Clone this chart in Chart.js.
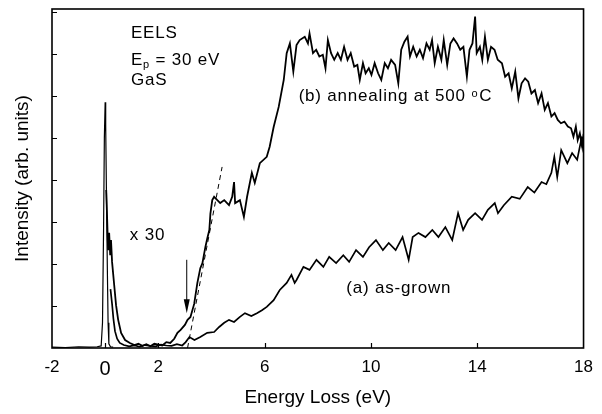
<!DOCTYPE html>
<html>
<head>
<meta charset="utf-8">
<script src="https://cdn.jsdelivr.net/npm/chart.js@4.4.1/dist/chart.umd.min.js"></script>
<style>
    html, body { margin: 0; padding: 0; background: #fff; }
    #wrap { width: 602px; height: 414px; }
</style>
</head>
<body>
<div id="wrap"><canvas id="eelsChart"></canvas></div>
<script>
// x tick labels on the energy axis
const energyTicks = [-2, 0, 2, 6, 10, 14, 18];
const intensityTicks = [1, 2, 3, 4, 5, 6, 7, 8];

// zero-loss (elastic) peak, unscaled
const elasticEnergy = [-2, -1.5, -1, -0.6, -0.3, -0.15, -0.1, -0.06, -0.03, 0, 0.02, 0.05, 0.08, 0.11, 0.14, 0.2, 0.3];
const elasticIntensity = [0.02, 0.01, 0.03, 0.02, 0.03, 0.05, 0.6, 2.8, 5.0, 5.85, 5.3, 3.6, 2.0, 0.6, 0.1, 0.03, 0.02];

// (b) annealing at 500 C, x30
const annealEnergy = [
    0.04, 0.07, 0.11, 0.15, 0.19, 0.22, 0.26, 0.34, 0.41, 0.49,
    0.6, 0.75, 0.93, 1.1, 1.25, 1.4, 1.55, 1.7, 1.85, 2.0,
    2.15, 2.3, 2.45, 2.6, 2.72, 2.84, 3.0, 3.1, 3.21, 3.35,
    3.47, 3.58, 3.66, 3.77, 3.84, 3.92, 3.96, 4.03, 4.1, 4.22,
    4.33, 4.48, 4.66, 4.78, 4.85, 4.89, 5.07, 5.22, 5.34, 5.52,
    5.63, 5.82, 6.08, 6.19, 6.34, 6.53, 6.72,
    6.83, 6.95, 7.08, 7.2, 7.32, 7.51, 7.63, 7.69, 7.82, 7.94,
    8.06, 8.19, 8.29, 8.38, 8.5, 8.62, 8.75, 8.87, 8.99, 9.12,
    9.24, 9.37, 9.49, 9.58, 9.7, 9.8, 9.92, 10.02, 10.14, 10.27,
    10.39, 10.52, 10.64, 10.76, 10.91, 11.03, 11.14, 11.26, 11.38, 11.47,
    11.59, 11.72, 11.84, 11.96, 12.09, 12.21, 12.3, 12.4, 12.52, 12.65,
    12.74, 12.87, 12.99, 13.11, 13.24, 13.36, 13.48, 13.61, 13.71, 13.82,
    13.92, 13.98, 14.1, 14.19, 14.29, 14.4, 14.52, 14.65, 14.77, 14.93,
    15.05, 15.18, 15.3, 15.43, 15.55, 15.67, 15.8, 15.92, 16.04, 16.17,
    16.29, 16.42, 16.54, 16.66, 16.79, 16.91, 17.03, 17.15, 17.28, 17.41,
    17.53, 17.62, 17.71, 17.78, 17.86, 17.92, 17.96
];
const annealIntensity = [
    3.76, 3.17, 2.33, 2.74, 2.21, 2.57, 2.05, 1.5, 1.02, 0.67,
    0.36, 0.19, 0.12, 0.07, 0.1, 0.05, 0.09, 0.04, 0.1, 0.08,
    0.06, 0.14, 0.12, 0.22, 0.36, 0.43, 0.55, 0.67, 0.74, 1.05,
    1.55, 1.9, 2.02, 2.4, 2.6, 2.81, 3.2, 3.52, 3.6, 3.52,
    3.45, 3.52, 3.4, 3.6, 3.95, 3.45, 3.52, 3.12, 3.6, 4.17,
    3.93, 4.4, 4.55, 4.79, 5.26, 5.74, 6.38,
    7.02, 7.25, 6.58, 7.21, 7.33, 7.41, 7.25, 7.49, 7.02, 7.1,
    6.94, 6.98, 6.66, 7.33, 7.02, 6.86, 7.02, 6.86, 7.17, 6.86,
    7.02, 6.7, 6.74, 6.38, 6.78, 6.54, 6.66, 6.5, 6.78, 6.54,
    6.38, 6.78, 6.66, 6.86, 6.74, 6.3, 7.1, 7.29, 7.41, 6.94,
    7.17, 6.94, 7.1, 6.9, 7.25, 7.1, 7.33, 6.78, 7.17, 6.86,
    7.33, 6.74, 7.25, 7.37, 7.25, 7.1, 7.17, 6.46, 7.1, 7.25,
    7.89, 7.02, 7.17, 6.86, 7.41, 6.86, 7.17, 7.1, 6.86, 6.78,
    6.46, 6.54, 6.18, 6.58, 5.94, 6.3, 6.42, 6.34, 6.06, 6.14,
    5.83, 6.06, 5.67, 5.83, 5.51, 5.59, 5.43, 5.35, 5.39, 5.27,
    5.23, 5.03, 5.27, 4.95, 5.11, 4.88, 5.03
];

// (a) as-grown, x30
const grownEnergy = [
    0.2, 0.26, 0.31, 0.37, 0.45, 0.55, 0.7, 0.9, 1.1, 1.3,
    1.5, 1.7, 1.9, 2.1, 2.3, 2.5, 2.7, 2.9, 3.03, 3.17,
    3.36, 3.58, 3.84, 4.1, 4.29, 4.48, 4.66, 4.85, 5.07, 5.26,
    5.5, 5.71, 5.9, 6.08, 6.34, 6.57, 6.83, 7.01, 7.13, 7.2,
    7.46, 7.69, 7.95, 8.21, 8.43, 8.69, 8.96, 9.18, 9.44, 9.7,
    9.93, 10.19, 10.45, 10.67, 10.93, 11.19, 11.42, 11.57, 11.79, 12.05,
    12.31, 12.54, 12.8, 13.06, 13.28, 13.47, 13.66, 13.92, 14.18, 14.4,
    14.66, 14.78, 15.0, 15.3, 15.6, 15.9, 16.15, 16.42, 16.6, 16.79,
    16.9, 17.01, 17.16, 17.39, 17.57, 17.76, 17.91, 17.95, 18.0
];
const grownIntensity = [
    1.4, 1.05, 0.7, 0.4, 0.22, 0.12, 0.07, 0.04, 0.06, 0.03,
    0.07, 0.05, 0.04, 0.08, 0.06, 0.05, 0.09, 0.06, 0.14, 0.26,
    0.19, 0.26, 0.36, 0.38, 0.5, 0.6, 0.67, 0.62, 0.74, 0.83,
    0.76, 0.83, 0.9, 0.98, 1.14, 1.38, 1.55, 1.74, 1.55, 1.62,
    1.93, 1.86, 2.1, 1.93, 2.17, 2.02, 2.21, 2.05, 2.33, 2.17,
    2.4, 2.57, 2.33, 2.5, 2.33, 2.64, 2.1, 2.64, 2.74, 2.64,
    2.81, 2.64, 2.88, 2.57, 3.21, 2.81, 3.05, 3.21, 3.05, 3.29,
    3.45, 3.21, 3.4, 3.6, 3.55, 3.83, 3.7, 3.95, 3.9, 4.17,
    4.55, 4.07, 4.71, 4.4, 4.64, 4.48, 4.95, 4.79, 5.1
];

// onset extrapolation (dashed) and arrow marking the gap
const onsetEnergy = [3.1, 4.4];
const onsetIntensity = [0, 4.31];
const arrowEnergy = 3.07;
const arrowFrom = 2.1;
const arrowTo = 0.83;

const FONT = "'Liberation Sans', Arial, Helvetica, sans-serif";

function toPoints(xs, ys) {
    return xs.map((x, i) => ({ x: x, y: ys[i] }));
}

function lineSet(xs, ys, width, extra) {
    return Object.assign({
        data: toPoints(xs, ys),
        borderColor: '#000',
        borderWidth: width,
        pointRadius: 0,
        tension: 0,
        fill: false,
    }, extra || {});
}

// frame, inward ticks, arrow and text labels
const decorations = {
    id: 'decorations',
    afterDatasetsDraw(chart) {
        const { ctx, chartArea: area, scales: { x, y } } = chart;
        ctx.save();
        ctx.strokeStyle = '#000';
        ctx.fillStyle = '#000';

        ctx.lineWidth = 1.6;
        ctx.strokeRect(area.left, area.top, area.right - area.left, area.bottom - area.top);

        ctx.lineWidth = 1.2;
        ctx.beginPath();
        intensityTicks.forEach(v => {
            const py = Math.round(y.getPixelForValue(v)) + 0.5;
            ctx.moveTo(area.left, py);
            ctx.lineTo(area.left + 5, py);
        });
        energyTicks.slice(1, -1).forEach(v => {
            const px = Math.round(x.getPixelForValue(v)) + 0.5;
            ctx.moveTo(px, area.bottom);
            ctx.lineTo(px, area.bottom - 5);
        });
        ctx.stroke();

        // arrow
        const ax = x.getPixelForValue(arrowEnergy);
        const ay0 = y.getPixelForValue(arrowFrom);
        const ay1 = y.getPixelForValue(arrowTo);
        ctx.lineWidth = 1;
        ctx.beginPath();
        ctx.moveTo(ax, ay0);
        ctx.lineTo(ax, ay1 - 10);
        ctx.stroke();
        ctx.beginPath();
        ctx.moveTo(ax - 3, ay1 - 14);
        ctx.lineTo(ax + 3, ay1 - 14);
        ctx.lineTo(ax, ay1);
        ctx.closePath();
        ctx.fill();

        // labels
        ctx.textBaseline = 'middle';
        ctx.textAlign = 'left';
        ctx.letterSpacing = '0.8px';
        const text = (s, ex, ey, size) => {
            ctx.font = (size || 17) + 'px ' + FONT;
            const px = x.getPixelForValue(ex);
            const py = y.getPixelForValue(ey);
            ctx.fillText(s, px, py);
            return px + ctx.measureText(s).width;
        };

        text('EELS', 0.97, 7.5);
        let px = text('E', 0.97, 6.86);
        ctx.font = '11px ' + FONT;
        ctx.fillText('p', px, y.getPixelForValue(6.86) + 5);
        px += ctx.measureText('p').width;
        ctx.font = '17px ' + FONT;
        ctx.fillText(' = 30 eV', px, y.getPixelForValue(6.86));
        text('GaS', 0.97, 6.38);
        text('x 30', 0.93, 2.69);
        text('(a) as-grown', 9.07, 1.43);

        px = text('(b) annealing at 500 ', 7.28, 5.98);
        ctx.font = '11px ' + FONT;
        ctx.fillText('o', px, y.getPixelForValue(5.98) - 3);
        px += ctx.measureText('o').width + 1;
        ctx.font = '17px ' + FONT;
        ctx.fillText('C', px, y.getPixelForValue(5.98));

        ctx.restore();
    }
};

new Chart(document.getElementById('eelsChart'), {
    type: 'line',
    data: {
        datasets: [
            lineSet(elasticEnergy, elasticIntensity, 1.2),
            lineSet(grownEnergy, grownIntensity, 1.7),
            lineSet(annealEnergy, annealIntensity, 1.8),
            lineSet(onsetEnergy, onsetIntensity, 1, { borderDash: [5, 4] }),
        ]
    },
    options: {
        responsive: true,
        maintainAspectRatio: false,
        animation: false,
        layout: { padding: { top: 9, right: 12, left: 0, bottom: 0 } },
        plugins: {
            legend: { display: false },
            tooltip: { enabled: false },
        },
        scales: {
            x: {
                type: 'linear',
                min: -2,
                max: 18,
                afterBuildTicks: (scale) => {
                    scale.ticks = energyTicks.map(v => ({ value: v }));
                },
                afterFit: (scale) => { scale.height = 66; },
                grid: { display: false, drawTicks: false },
                border: { display: false },
                ticks: {
                    color: '#000',
                    padding: 9,
                    maxRotation: 0,
                    font: (c) => ({ family: FONT, size: c.tick && c.tick.value === 0 ? 20 : 17 }),
                    callback: (v) => String(v),
                },
                title: {
                    display: true,
                    text: 'Energy Loss (eV)',
                    color: '#000',
                    font: { family: FONT, size: 19 },
                    padding: { top: 0, bottom: 5 },
                },
            },
            y: {
                min: 0,
                max: 8.07,
                afterFit: (scale) => { scale.width = 52; },
                grid: { display: false, drawTicks: false },
                border: { display: false },
                ticks: { display: false, stepSize: 1 },
                title: {
                    display: true,
                    text: 'Intensity (arb. units)',
                    color: '#000',
                    font: { family: FONT, size: 19 },
                    padding: { top: 11, bottom: 0 },
                },
            },
        },
    },
    plugins: [decorations],
});
</script>
</body>
</html>
